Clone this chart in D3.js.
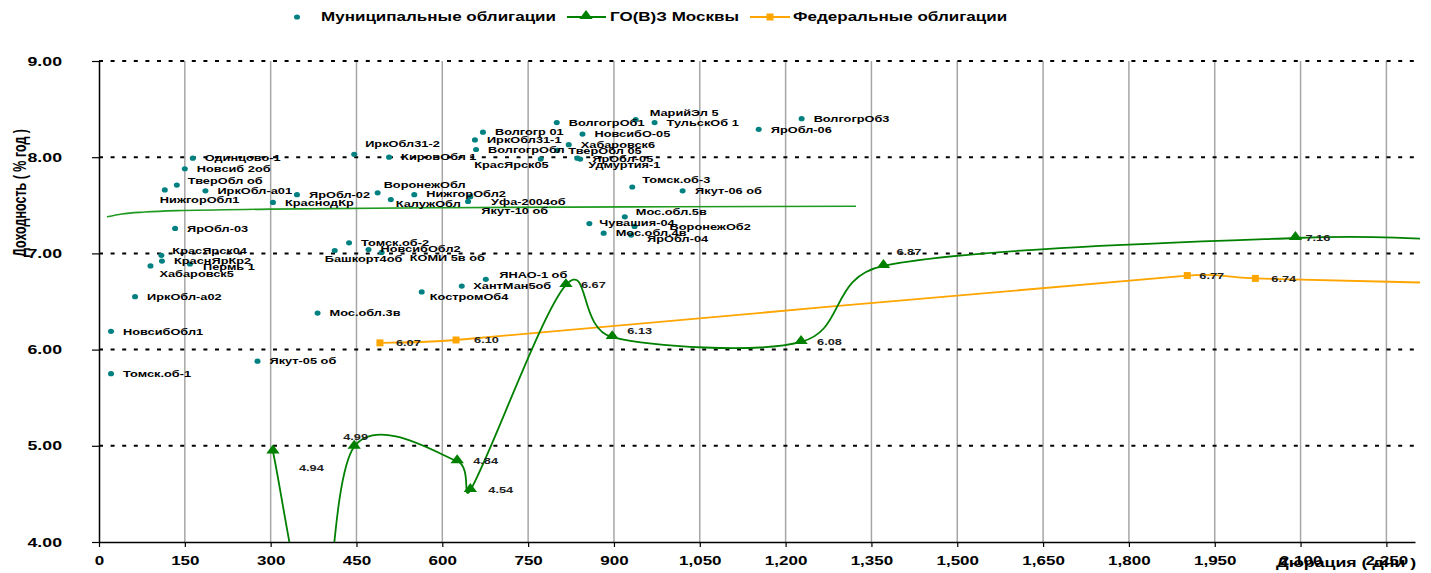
<!DOCTYPE html>
<html><head><meta charset="utf-8">
<script src="https://cdn.jsdelivr.net/npm/d3@7"></script>
<style>
body{margin:0;background:#fff}
text{font-family:"Liberation Sans",Arial,sans-serif;font-weight:bold}
</style>
</head><body>
<svg id="c" width="1431" height="573"></svg>
<script>
// ---------- DATA ----------
const muniNames = ["Одинцово-1","Новсиб 2об","ТверОбл об","НижгорОбл1","ИркОбл-а01","ЯрОбл-02","КраснодКр","ЯрОбл-03",
 "КрасЯрск04","КраснЯрКр2","Пермь 1","Хабаровск5","ИркОбл-а02","НовсибОбл1","Томск.об-1","Якут-05 об","Мос.обл.3в",
 "ИркОбл31-2","КировОбл 1","ВоронежОбл","КалужОбл","НижгорОбл2","Уфа-2004об","Якут-10 об","ВолгогрОб1","Волгогр 01",
 "ИркОбл31-1","ВолгогрОбл","КрасЯрск05","НовсибО-05","Хабаровск6","ТверОбл 05","ЯрОбл-05","Удмуртия-1","МарийЭл 5",
 "ТульскОб 1","Томск.об-3","Якут-06 об","Мос.обл.5в","Чувашия-04","ВоронежОб2","Мос.обл.4в","ЯрОбл-04","ЯрОбл-06",
 "ВолгогрОб3","Томск.об-2","Башкорт4об","НовсибОбл2","КОМИ 5в об","ЯНАО-1 об","ХантМан5об","КостромОб4"];
const muniDur = [164,150,136,115,186,346,304,133,
 109,110,159,90,63,21,21,277,382,
 446,507,487,510,551,645,649,800,671,
 657,659,772,845,821,801,841,836,938,
 971,932,1020,919,857,936,882,930,1153,
 1228,437,412,471,494,676,634,564];
const muniYield = [7.99,7.88,7.71,7.66,7.65,7.61,7.53,7.26,
 6.98,6.92,6.89,6.87,6.55,6.19,5.75,5.88,6.38,
 8.03,8.00,7.63,7.56,7.61,7.54,7.59,8.36,8.26,
 8.18,8.08,7.98,8.24,8.13,8.07,7.98,7.99,8.39,
 8.36,7.69,7.65,7.38,7.31,7.28,7.21,7.19,8.29,
 8.40,7.11,7.03,7.04,7.01,6.73,6.66,6.60];

// trend line of municipal bonds
const trendDur   = [14, 40, 80, 136, 300, 600, 1000, 1323];
const trendYield = [7.38, 7.41, 7.43, 7.445, 7.46, 7.475, 7.485, 7.49];

// ГО(В)З Москвы (second point and last point lie outside the axes)
const moscowDur   = [304, 383, 446, 626, 649, 816, 897, 1227, 1371, 2091, 2450];
const moscowYield = [4.94, 2.88, 4.99, 4.84, 4.54, 6.67, 6.13, 6.08, 6.87, 7.16, 7.11];

// Федеральные облигации
const fedDur   = [491, 624, 1902, 2021, 2500];
const fedYield = [6.07, 6.10, 6.77, 6.74, 6.67];

const xTicks = d3.range(0, 2251, 150);
const yTicks = [4,5,6,7,8,9];
const legendLabels = ["Муниципальные облигации","ГО(В)З Москвы","Федеральные облигации"];
const xTitle = "Дюрация ( дни )";
const yTitle = "Доходность ( % год )";

// ---------- LABEL PLACEMENT (style) ----------
const muniLabelPos = [[12,0],[12,0],[11,-4],[-5,9.5],[12,0],[12,0],[12,0],[12,0],
 [11,-5],[12,0],[13,3],[9,7.5],[12,0],[12,0],[12,0],[12,0],[12,0],
 [11,-11],[12,0],[6,-8],[5,4],[12,-1],[23,0],[11,14],[12,0],[12,0],
 [12,0],[12,0],[8,6,"end"],[12,0],[12,0],[11,0],[12,0],[11,7],[14,-7],
 [12,0],[10,-7],[12.5,0],[11,-5],[10,-1],[35,0],[12,0],[16,4],[12,0],
 [12,0],[12,0],[-10,8.5],[12,-1],[28,5],[13.5,-5],[11.5,0],[8,4.5]];
const moscowLabelPos = [[26,16],null,[-11,-10],[16,0],[18,0],[15,0],[15,-6],[16,0],[13,-14],[10,0],null];
const fedLabelPos = [[16,0],[18,0],[12,0],[16,0],null];

// ---------- CHART ----------
const SX = 1.42;
const svg = d3.select("#c");
const L = 99, R = 1415, T = 61, B = 542;
const x = d3.scaleLinear().domain([0, 2300]).range([L, R]);
const y = d3.scaleLinear().domain([4, 9]).range([B, T]);

// smoothed line in the spreadsheet style: Catmull-Rom tangents, limited to half a segment
function smoothCurve(context) {
  let pts = [];
  return {
    areaStart() {}, areaEnd() {},
    lineStart() { pts = []; },
    point(px, py) { pts.push([+px, +py]); },
    lineEnd() {
      const n = pts.length; if (!n) return;
      context.moveTo(pts[0][0], pts[0][1]);
      if (n === 2) { context.lineTo(pts[1][0], pts[1][1]); return; }
      const tg = pts.map((p, i) => {
        const a = pts[Math.max(0, i - 1)], b = pts[Math.min(n - 1, i + 1)];
        return [(b[0] - a[0]) / 6, (b[1] - a[1]) / 6];
      });
      const lim = (t, m) => { const l = Math.hypot(t[0], t[1]); return l > m ? [t[0] * m / l, t[1] * m / l] : t; };
      for (let i = 0; i < n - 1; i++) {
        const p0 = pts[i], p1 = pts[i + 1];
        const half = Math.hypot(p1[0] - p0[0], p1[1] - p0[1]) / 2;
        const t0 = lim(tg[i], half), t1 = lim(tg[i + 1], half);
        context.bezierCurveTo(p0[0] + t0[0], p0[1] + t0[1], p1[0] - t1[0], p1[1] - t1[1], p1[0], p1[1]);
      }
    }
  };
}

svg.append("defs").append("clipPath").attr("id","clip")
  .append("rect").attr("x", L).attr("y", T - 5).attr("width", R - L + 5).attr("height", B - T + 5);

// vertical grid
svg.append("g").selectAll("line").data(xTicks.filter(d => d > 0)).join("line")
  .attr("x1", d => x(d)).attr("x2", d => x(d)).attr("y1", y(9)).attr("y2", y(4))
  .attr("stroke", "#a6a6a6").attr("stroke-width", 1.5);
// horizontal dashed grid
svg.append("g").selectAll("line").data(yTicks.filter(d => d > 4)).join("line")
  .attr("x1", L).attr("x2", R).attr("y1", d => y(d)).attr("y2", d => y(d))
  .attr("stroke", "#000").attr("stroke-width", 2).attr("stroke-dasharray", "4,7.6");

// axes
const gx = svg.append("g").attr("transform", `translate(0,${B})`)
  .call(d3.axisBottom(x).tickValues(xTicks).tickFormat(d3.format(",")).tickSize(5).tickSizeOuter(0));
gx.select(".domain").attr("stroke", "#000").attr("stroke-width", 1.5);
gx.selectAll(".tick line").attr("stroke", "#000").attr("stroke-width", 1.2);
gx.selectAll(".tick text").attr("y", 19).attr("dy", "0.35em").attr("font-size", 12)
  .attr("fill", "#000").attr("transform", `scale(${SX},1)`);

const gy = svg.append("g").attr("transform", `translate(${L},0)`)
  .call(d3.axisLeft(y).tickValues(yTicks).tickFormat(d3.format(".2f")).tickSize(7).tickSizeOuter(0));
gy.select(".domain").attr("stroke", "#000").attr("stroke-width", 1.5);
gy.selectAll(".tick line").attr("stroke", "#000").attr("stroke-width", 1.2);
gy.selectAll(".tick text").attr("x", -37 / SX).attr("font-size", 12.5)
  .attr("fill", "#000").attr("transform", `scale(${SX},1)`);

// helper for stretched text
function stext(g, tx, ty, str, size, anchor, fill) {
  return g.append("text").attr("transform", `translate(${tx},${ty}) scale(${SX},1)`)
    .attr("text-anchor", anchor || "start").attr("dominant-baseline", "central")
    .attr("font-size", size).attr("fill", fill || "#000").text(str);
}

// titles
svg.append("text").attr("transform", `translate(20,193) scale(${SX},1) rotate(-90)`)
  .attr("text-anchor", "middle").attr("dominant-baseline", "central")
  .attr("font-size", 12.5).text(yTitle);
stext(svg, 1276, 563, xTitle, 12.5, "start");

const plot = svg.append("g").attr("clip-path", "url(#clip)");
const line = d3.line().x(d => x(d[0])).y(d => y(d[1])).curve(smoothCurve);

// trend line
plot.append("path").datum(d3.zip(trendDur, trendYield))
  .attr("d", d3.line().x(d => x(d[0])).y(d => y(d[1])).curve(d3.curveMonotoneX))
  .attr("fill", "none").attr("stroke", "#1e9a1e").attr("stroke-width", 1.6);

// federal
const fedPts = d3.zip(fedDur, fedYield);
plot.append("path").datum(fedPts).attr("d", line)
  .attr("fill", "none").attr("stroke", "#ffa500").attr("stroke-width", 1.8);
// moscow
const mosPts = d3.zip(moscowDur, moscowYield);
plot.append("path").datum(mosPts).attr("d", line)
  .attr("fill", "none").attr("stroke", "#008000").attr("stroke-width", 1.8);

const inside = d => d[0] >= 0 && d[0] <= 2300 && d[1] >= 4 && d[1] <= 9;
const tri = d3.symbol().type(d3.symbolTriangle).size(46);

// markers
svg.append("g").selectAll("path").data(mosPts.filter(inside)).join("path")
  .attr("d", tri).attr("transform", d => `translate(${x(d[0])},${y(d[1]) - 1}) scale(1.3,1)`)
  .attr("fill", "#008000");
svg.append("g").selectAll("rect").data(fedPts.filter(inside)).join("rect")
  .attr("x", d => x(d[0]) - 3.5).attr("y", d => y(d[1]) - 3.5).attr("width", 7).attr("height", 7)
  .attr("fill", "#ffa500");

// municipal dots
svg.append("g").selectAll("ellipse").data(d3.range(muniDur.length)).join("ellipse")
  .attr("cx", i => x(muniDur[i])).attr("cy", i => y(muniYield[i])).attr("rx", 3).attr("ry", 2.6)
  .attr("fill", "#008080");

// labels
const lg = svg.append("g");
muniNames.forEach((n, i) => {
  const p = muniLabelPos[i];
  stext(lg, x(muniDur[i]) + p[0], y(muniYield[i]) + p[1], n, 9, p[2] || "start", "#000");
});
mosPts.forEach((d, i) => {
  const p = moscowLabelPos[i]; if (!p || !inside(d)) return;
  stext(lg, x(d[0]) + p[0], y(d[1]) + p[1], d3.format(".2f")(d[1]), 9, "start", "#222");
});
fedPts.forEach((d, i) => {
  const p = fedLabelPos[i]; if (!p || !inside(d)) return;
  stext(lg, x(d[0]) + p[0], y(d[1]) + p[1], d3.format(".2f")(d[1]), 9, "start", "#222");
});

// legend
const leg = svg.append("g");
leg.append("ellipse").attr("cx", 297).attr("cy", 17).attr("rx", 3).attr("ry", 2.6).attr("fill", "#008080");
stext(leg, 321, 17, legendLabels[0], 12, "start");
leg.append("line").attr("x1", 567).attr("x2", 606).attr("y1", 17).attr("y2", 17).attr("stroke", "#008000").attr("stroke-width", 2);
leg.append("path").attr("d", tri).attr("transform", `translate(586,16) scale(1.3,1)`).attr("fill", "#008000");
stext(leg, 610, 17, legendLabels[1], 12, "start");
leg.append("line").attr("x1", 750).attr("x2", 790).attr("y1", 17).attr("y2", 17).attr("stroke", "#ffa500").attr("stroke-width", 2);
leg.append("rect").attr("x", 766.5).attr("y", 13.5).attr("width", 7).attr("height", 7).attr("fill", "#ffa500");
stext(leg, 793, 17, legendLabels[2], 12, "start");
</script>
</body></html>
